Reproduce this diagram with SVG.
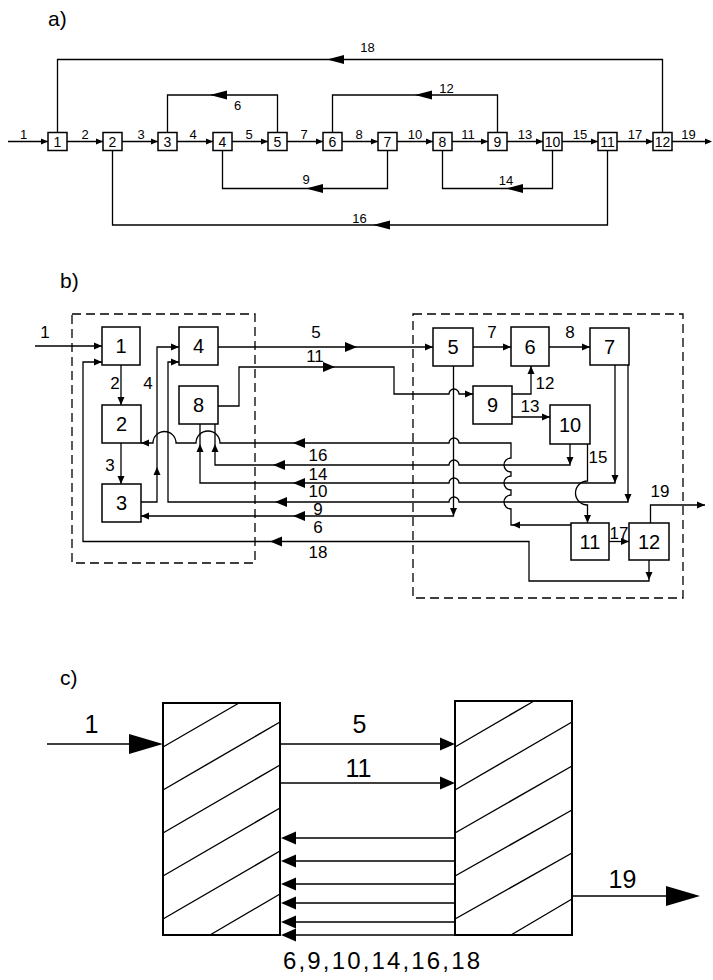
<svg xmlns="http://www.w3.org/2000/svg" width="713" height="980" viewBox="0 0 713 980">
<defs>
<style>
.ln{fill:none;stroke:#000;stroke-width:1.3}
.bx{fill:#fff;stroke:#000;stroke-width:1.5}
.bxc{fill:none;stroke:#000;stroke-width:2}
.hat{stroke:#000;stroke-width:1.4}
.dash{fill:none;stroke:#000;stroke-width:1.3;stroke-dasharray:9 5}
text{font-family:"Liberation Sans",Arial,sans-serif;fill:#000}
.ta{font-size:13px;text-anchor:middle}
.tab{font-size:14px;text-anchor:middle}
.tb{font-size:17px;text-anchor:middle}
.tbb{font-size:20px;text-anchor:middle}
.tc{font-size:25px;text-anchor:middle}
.tl{font-size:21px}
</style>
<path id="as" d="M0,0 L-7,-3 L-7,3 Z"/>
<path id="al" d="M0,0 L-17,-4.5 L-17,4.5 Z"/>
<path id="ab" d="M0,0 L-8,-3.5 L-8,3.5 Z"/>
<path id="am" d="M0,0 L-12,-5 L-12,5 Z"/>
<path id="ac" d="M0,0 L-15,-6.5 L-15,6.5 Z"/>
<path id="aC" d="M0,0 L-34,-10 L-34,10 Z"/>
</defs>
<rect width="713" height="980" fill="#fff"/>

<!-- ================= a) ================= -->
<text class="tl" x="48" y="26">a)</text>
<g id="a-connectors">
<path class="ln" d="M8,141.5 H710"/>
<path class="ln" d="M57.5,132.5 V59.5 H662.5 V132.5"/>
<path class="ln" d="M167.5,132.5 V95 H277.5 V132.5"/>
<path class="ln" d="M332.5,132.5 V95 H497.5 V132.5"/>
<path class="ln" d="M222.5,150.5 V188.5 H387.5 V150.5"/>
<path class="ln" d="M442.5,150.5 V188.5 H552.5 V150.5"/>
<path class="ln" d="M112.5,150.5 V225 H607.5 V150.5"/>
<use href="#as" x="48" y="141.5"/>
<use href="#as" x="103" y="141.5"/>
<use href="#as" x="158" y="141.5"/>
<use href="#as" x="213" y="141.5"/>
<use href="#as" x="268" y="141.5"/>
<use href="#as" x="323" y="141.5"/>
<use href="#as" x="378" y="141.5"/>
<use href="#as" x="433" y="141.5"/>
<use href="#as" x="488" y="141.5"/>
<use href="#as" x="543" y="141.5"/>
<use href="#as" x="598" y="141.5"/>
<use href="#as" x="653" y="141.5"/>
<use href="#as" x="712" y="141.5"/>
<use href="#al" transform="translate(327,59.5) rotate(180)"/>
<use href="#al" transform="translate(210,95) rotate(180)"/>
<use href="#al" transform="translate(415,95) rotate(180)"/>
<use href="#al" transform="translate(306,188.5) rotate(180)"/>
<use href="#al" transform="translate(506,188.5) rotate(180)"/>
<use href="#al" transform="translate(373,225) rotate(180)"/>
<text class="ta" x="23.5" y="139">1</text>
<text class="ta" x="85" y="139">2</text>
<text class="ta" x="141" y="139">3</text>
<text class="ta" x="193" y="139">4</text>
<text class="ta" x="249" y="139">5</text>
<text class="ta" x="304" y="139">7</text>
<text class="ta" x="359" y="139">8</text>
<text class="ta" x="415" y="139">10</text>
<text class="ta" x="468" y="139">11</text>
<text class="ta" x="525" y="139">13</text>
<text class="ta" x="580" y="139">15</text>
<text class="ta" x="635" y="139">17</text>
<text class="ta" x="688.5" y="139">19</text>
<text class="ta" x="367.5" y="52">18</text>
<text class="ta" x="237.5" y="110">6</text>
<text class="ta" x="446.5" y="93">12</text>
<text class="ta" x="306" y="184">9</text>
<text class="ta" x="506" y="185">14</text>
<text class="ta" x="359.5" y="222.5">16</text>
</g>
<g id="a-n1"><rect class="bx" x="48" y="132.5" width="19" height="18"/><text class="tab" x="57.5" y="146.5">1</text></g>
<g id="a-n2"><rect class="bx" x="103" y="132.5" width="19" height="18"/><text class="tab" x="112.5" y="146.5">2</text></g>
<g id="a-n3"><rect class="bx" x="158" y="132.5" width="19" height="18"/><text class="tab" x="167.5" y="146.5">3</text></g>
<g id="a-n4"><rect class="bx" x="213" y="132.5" width="19" height="18"/><text class="tab" x="222.5" y="146.5">4</text></g>
<g id="a-n5"><rect class="bx" x="268" y="132.5" width="19" height="18"/><text class="tab" x="277.5" y="146.5">5</text></g>
<g id="a-n6"><rect class="bx" x="323" y="132.5" width="19" height="18"/><text class="tab" x="332.5" y="146.5">6</text></g>
<g id="a-n7"><rect class="bx" x="378" y="132.5" width="19" height="18"/><text class="tab" x="387.5" y="146.5">7</text></g>
<g id="a-n8"><rect class="bx" x="433" y="132.5" width="19" height="18"/><text class="tab" x="442.5" y="146.5">8</text></g>
<g id="a-n9"><rect class="bx" x="488" y="132.5" width="19" height="18"/><text class="tab" x="497.5" y="146.5">9</text></g>
<g id="a-n10"><rect class="bx" x="543" y="132.5" width="19" height="18"/><text class="tab" x="552.5" y="146.5">10</text></g>
<g id="a-n11"><rect class="bx" x="598" y="132.5" width="19" height="18"/><text class="tab" x="607.5" y="146.5">11</text></g>
<g id="a-n12"><rect class="bx" x="653" y="132.5" width="19" height="18"/><text class="tab" x="662.5" y="146.5">12</text></g>

<!-- ================= b) ================= -->
<text class="tl" x="60" y="288">b)</text>
<rect class="dash" x="72" y="314" width="183" height="249"/>
<rect class="dash" x="413" y="314" width="270" height="284"/>
<g id="b-connectors">
<path class="ln" d="M35,346 H102"/>
<path class="ln" d="M121,365 V405"/>
<path class="ln" d="M121,443 V484"/>
<path class="ln" d="M141,502 H157 V347 H179"/>
<path class="ln" d="M218,347 H433"/>
<path class="ln" d="M218,406 H239 V367 H394 V394 H449 a5,5 0 0 1 10,0 H473"/>
<path class="ln" d="M473,347 H511"/>
<path class="ln" d="M549,347 H590"/>
<path class="ln" d="M512,394 H531 V366"/>
<path class="ln" d="M512,417 H550"/>
<path class="ln" d="M587.5,444 V481 a12,12 0 0 0 0,24 V523"/>
<path class="ln" d="M609,541.5 H629"/>
<path class="ln" d="M650.5,523 V505 H705"/>
<path class="ln" d="M453.5,366 V516 H141"/>
<path class="ln" d="M571,525 H511 V509 a7,7 0 0 1 0,-14 V490 a7,7 0 0 1 0,-14 V472 a7,7 0 0 1 0,-14 V443 H459 a5,5 0 0 0 -10,0 H220 a12,12 0 0 0 -24,0 H176 a11.5,11.5 0 0 0 -23,0 H141"/>
<path class="ln" d="M570,444 V465 H459 a5,5 0 0 0 -10,0 H215 V424"/>
<path class="ln" d="M615,365 V483 H459 a5,5 0 0 0 -10,0 H200 V424"/>
<path class="ln" d="M628,365 V502 H459 a5,5 0 0 0 -10,0 H168 V362 H179"/>
<path class="ln" d="M649,560 V581 H529 V541.5 H83 V362 H102"/>
<use href="#ab" x="102" y="346"/>
<use href="#ab" transform="translate(121,405) rotate(90)"/>
<use href="#ab" transform="translate(121,484) rotate(90)"/>
<use href="#ab" transform="translate(157,467) rotate(-90)"/>
<use href="#ab" x="179" y="347"/>
<use href="#am" x="357" y="347"/>
<use href="#ab" x="433" y="347"/>
<use href="#am" x="335" y="367"/>
<use href="#ab" x="473" y="394"/>
<use href="#ab" x="511" y="347"/>
<use href="#ab" x="590" y="347"/>
<use href="#ab" transform="translate(531,366) rotate(-90)"/>
<use href="#ab" x="550" y="417"/>
<use href="#ab" transform="translate(587.5,523) rotate(90)"/>
<use href="#ab" x="629" y="541.5"/>
<use href="#ab" x="705" y="505"/>
<use href="#ab" transform="translate(453.5,516) rotate(90)"/>
<use href="#ab" transform="translate(141,516) rotate(180)"/>
<use href="#am" transform="translate(293,516) rotate(180)"/>
<use href="#ab" transform="translate(512,525) rotate(180)"/>
<use href="#ab" transform="translate(141,443) rotate(180)"/>
<use href="#am" transform="translate(293,443) rotate(180)"/>
<use href="#ab" transform="translate(570,465) rotate(90)"/>
<use href="#ab" transform="translate(215,444) rotate(-90)"/>
<use href="#am" transform="translate(273,465) rotate(180)"/>
<use href="#ab" transform="translate(615,483) rotate(90)"/>
<use href="#ab" transform="translate(200,444) rotate(-90)"/>
<use href="#am" transform="translate(293,483) rotate(180)"/>
<use href="#ab" transform="translate(628,502) rotate(90)"/>
<use href="#ab" x="179" y="362"/>
<use href="#am" transform="translate(275,502) rotate(180)"/>
<use href="#ab" transform="translate(649,580) rotate(90)"/>
<use href="#ab" x="102" y="362"/>
<use href="#am" transform="translate(270,541.5) rotate(180)"/>
<text class="tb" x="45" y="338">1</text>
<text class="tb" x="115" y="389">2</text>
<text class="tb" x="110" y="471">3</text>
<text class="tb" x="148" y="389">4</text>
<text class="tb" x="316" y="338">5</text>
<text class="tb" x="315" y="362">11</text>
<text class="tb" x="318" y="461">16</text>
<text class="tb" x="318" y="479.5">14</text>
<text class="tb" x="318" y="497">10</text>
<text class="tb" x="318" y="515">9</text>
<text class="tb" x="318" y="533">6</text>
<text class="tb" x="318" y="558">18</text>
<text class="tb" x="492" y="338">7</text>
<text class="tb" x="570" y="338">8</text>
<text class="tb" x="545" y="389">12</text>
<text class="tb" x="530" y="412">13</text>
<text class="tb" x="598" y="463">15</text>
<text class="tb" x="619" y="539">17</text>
<text class="tb" x="660" y="497">19</text>
</g>
<g id="b-n1"><rect class="bx" x="102" y="327" width="38" height="38"/><text class="tbb" x="121" y="353">1</text></g>
<g id="b-n2"><rect class="bx" x="102" y="405" width="39" height="38"/><text class="tbb" x="121.5" y="431">2</text></g>
<g id="b-n3"><rect class="bx" x="102" y="484" width="39" height="38"/><text class="tbb" x="121.5" y="510">3</text></g>
<g id="b-n4"><rect class="bx" x="179" y="327" width="39" height="38"/><text class="tbb" x="198.5" y="353">4</text></g>
<g id="b-n8"><rect class="bx" x="179" y="386" width="39" height="38"/><text class="tbb" x="198.5" y="412">8</text></g>
<g id="b-n5"><rect class="bx" x="433" y="328" width="40" height="38"/><text class="tbb" x="453" y="354">5</text></g>
<g id="b-n6"><rect class="bx" x="511" y="327" width="38" height="39"/><text class="tbb" x="530" y="353.5">6</text></g>
<g id="b-n7"><rect class="bx" x="590" y="328" width="39" height="37"/><text class="tbb" x="609.5" y="353.5">7</text></g>
<g id="b-n9"><rect class="bx" x="473" y="386" width="39" height="38"/><text class="tbb" x="492.5" y="412">9</text></g>
<g id="b-n10"><rect class="bx" x="550" y="405" width="40" height="39"/><text class="tbb" x="570" y="431.5">10</text></g>
<g id="b-n11"><rect class="bx" x="571" y="523" width="38" height="37"/><text class="tbb" x="590" y="548.5">11</text></g>
<g id="b-n12"><rect class="bx" x="629" y="523" width="40" height="37"/><text class="tbb" x="649" y="548.5">12</text></g>

<!-- ================= c) ================= -->
<text class="tl" x="60" y="685">c)</text>
<g id="c-connectors">
<path class="ln" style="stroke-width:1.6" d="M47,744 H135"/>
<path class="ln" style="stroke-width:1.6" d="M280,744 H445"/>
<path class="ln" style="stroke-width:1.6" d="M280,783 H445"/>
<path class="ln" style="stroke-width:1.6" d="M455,838 H290 M455,861 H290 M455,884 H290 M455,903 H290 M455,922 H290 M455,935 H290"/>
<path class="ln" style="stroke-width:1.6" d="M572,896 H670"/>
<use href="#aC" x="163" y="744"/>
<use href="#ac" x="455" y="744"/>
<use href="#ac" x="455" y="783"/>
<use href="#ac" transform="translate(281,838) rotate(180)"/>
<use href="#ac" transform="translate(281,861) rotate(180)"/>
<use href="#ac" transform="translate(281,884) rotate(180)"/>
<use href="#ac" transform="translate(281,903) rotate(180)"/>
<use href="#ac" transform="translate(281,922) rotate(180)"/>
<use href="#ac" transform="translate(281,935) rotate(180)"/>
<use href="#aC" x="700" y="896"/>
<text class="tc" x="91.5" y="733">1</text>
<text class="tc" x="359.5" y="733">5</text>
<text class="tc" x="358.5" y="777">11</text>
<text class="tc" x="622.5" y="888">19</text>
<text x="283" y="969" style="font-size:24px" textLength="197" lengthAdjust="spacing">6,9,10,14,16,18</text>
</g>
<g id="c-left">
<rect class="bxc" x="163" y="703" width="117" height="232"/>
<path class="hat" d="M163,747 L239,703 M163,790 L280,722 M163,833 L280,765 M163,876 L280,808 M163,919 L280,851 M210,935 L280,894"/>
</g>
<g id="c-right">
<rect class="bxc" x="455" y="701" width="117" height="234"/>
<path class="hat" d="M455,747 L534,701 M455,790 L572,722 M455,833 L572,766 M455,876 L572,810 M455,919 L572,853 M511,935 L572,899"/>
</g>
</svg>
